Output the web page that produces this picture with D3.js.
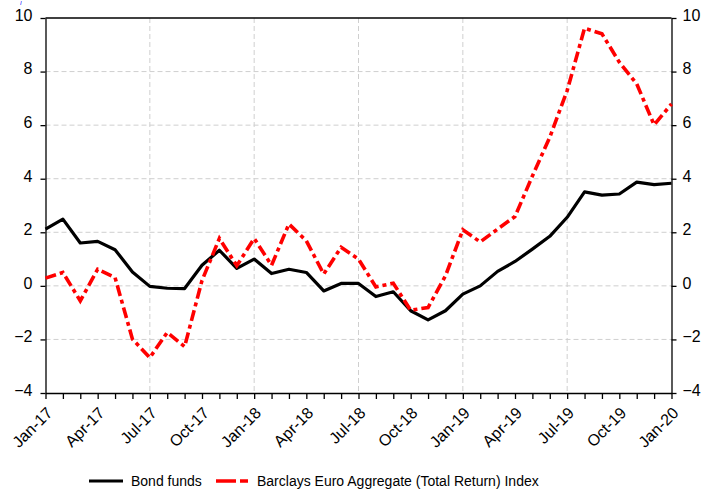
<!DOCTYPE html>
<html>
<head>
<meta charset="utf-8">
<script src="https://cdn.jsdelivr.net/npm/d3@7"></script>
<style>
  body { margin: 0; background: #fff; }
  svg { display: block; font-family: "Liberation Sans", Arial, sans-serif; }
</style>
</head>
<body>
<div id="chart"></div>
<script>
// monthly observations, Jan-17 .. Jan-20
const bondFunds = [2.12, 2.49, 1.60, 1.66, 1.35, 0.52, -0.02, -0.09, -0.10, 0.77, 1.33, 0.65,
  1.00, 0.46, 0.62, 0.50, -0.19, 0.09, 0.09, -0.40, -0.22, -0.93, -1.27, -0.93,
  -0.31, 0.00, 0.54, 0.91, 1.37, 1.85, 2.56, 3.51, 3.39, 3.43, 3.87, 3.78, 3.83];
const barclaysIndex = [0.29, 0.50, -0.56, 0.62, 0.31, -1.99, -2.68, -1.74, -2.27, 0.20, 1.77, 0.75,
  1.77, 0.77, 2.31, 1.68, 0.44, 1.44, 1.00, -0.04, 0.10, -0.91, -0.81, 0.37,
  2.09, 1.64, 2.12, 2.59, 4.10, 5.55, 7.29, 9.62, 9.41, 8.35, 7.54, 6.01, 6.79];
const xTickLabels = ['Jan-17', 'Apr-17', 'Jul-17', 'Oct-17', 'Jan-18', 'Apr-18', 'Jul-18',
  'Oct-18', 'Jan-19', 'Apr-19', 'Jul-19', 'Oct-19', 'Jan-20'];
const yTicks = [-4, -2, 0, 2, 4, 6, 8, 10];
const gridMonths = [6, 12, 18, 24, 30];
const seriesNames = ['Bond funds', 'Barclays Euro Aggregate (Total Return) Index'];

const W = 702, H = 493;
const margin = { left: 45.5, right: 30.5, top: 18, bottom: 100 };
const plotW = W - margin.left - margin.right;
const plotH = H - margin.top - margin.bottom;

const svg = d3.select('#chart').append('svg')
  .attr('width', W).attr('height', H);

// small blue mark at the very top (remnant glyph in the source)
svg.append('text').attr('x', 20).attr('y', 5)
  .attr('fill', '#0000ff').style('font-style', 'italic').style('font-size', '6px').text('I');

const g = svg.append('g').attr('transform', `translate(${margin.left},${margin.top})`);

const x = d3.scaleLinear().domain([0, bondFunds.length - 1]).range([0, plotW]);
const y = d3.scaleLinear().domain([-4, 10]).range([plotH, 0]);

// grid
g.selectAll('.hgrid').data(yTicks.filter(d => d > -4 && d < 10)).enter()
  .append('line')
  .attr('x1', 0).attr('x2', plotW)
  .attr('y1', d => y(d)).attr('y2', d => y(d))
  .attr('stroke', '#cfcfcf').attr('stroke-width', 1).attr('stroke-dasharray', '5,3');
g.selectAll('.vgrid').data(gridMonths).enter()
  .append('line')
  .attr('x1', d => x(d)).attr('x2', d => x(d))
  .attr('y1', 0).attr('y2', plotH)
  .attr('stroke', '#cfcfcf').attr('stroke-width', 1).attr('stroke-dasharray', '5,3');

// axes
const leftAxis = d3.axisLeft(y).tickValues(yTicks).tickSizeInner(5).tickSizeOuter(0).tickPadding(8);
const rightAxis = d3.axisRight(y).tickValues(yTicks).tickSizeInner(5).tickSizeOuter(0).tickPadding(6);
const bottomAxis = d3.axisBottom(x).tickValues(d3.range(0, 37)).tickSizeInner(6).tickSizeOuter(0)
  .tickFormat('');

g.append('g').attr('class', 'yaxis').call(leftAxis);
g.append('g').attr('class', 'yaxis').attr('transform', `translate(${plotW},0)`).call(rightAxis);
g.append('g').attr('class', 'xaxis').attr('transform', `translate(0,${plotH})`).call(bottomAxis);
g.selectAll('.yaxis text').style('font-size', '16px').attr('fill', '#000').attr('dy', '0.15em');
g.selectAll('.domain, .tick line').attr('stroke', '#000').attr('stroke-width', 1.3);

// top frame line
g.append('line').attr('x1', 0).attr('x2', plotW).attr('y1', 0).attr('y2', 0)
  .attr('stroke', '#000').attr('stroke-width', 1.3);

// rotated month labels
g.selectAll('.xlab').data(xTickLabels).enter()
  .append('text')
  .attr('text-anchor', 'end')
  .attr('transform', (d, i) => `translate(${x(i * 3) + 8},${plotH + 21}) rotate(-45)`)
  .style('font-size', '16px')
  .text(d => d);

// series
const line = d3.line().x((d, i) => x(i)).y(d => y(d));
g.append('path').datum(bondFunds)
  .attr('d', line).attr('fill', 'none')
  .attr('stroke', '#000').attr('stroke-width', 3.2).attr('stroke-linejoin', 'round');
g.append('path').datum(barclaysIndex)
  .attr('d', line).attr('fill', 'none')
  .attr('stroke', '#ff0000').attr('stroke-width', 3.6)
  .attr('stroke-dasharray', '11,4,4,4');

// legend
const legend = svg.append('g').attr('transform', `translate(0,481)`);
legend.append('line').attr('x1', 89).attr('x2', 123).attr('y1', 0).attr('y2', 0)
  .attr('stroke', '#000').attr('stroke-width', 3.2);
legend.append('text').attr('x', 131).attr('y', 5).style('font-size', '14px').text(seriesNames[0]);
legend.append('line').attr('x1', 216).attr('x2', 248).attr('y1', 0).attr('y2', 0)
  .attr('stroke', '#ff0000').attr('stroke-width', 3.6).attr('stroke-dasharray', '20,4,8,4');
legend.append('text').attr('x', 257).attr('y', 5).style('font-size', '14px').text(seriesNames[1]);
</script>
</body>
</html>
